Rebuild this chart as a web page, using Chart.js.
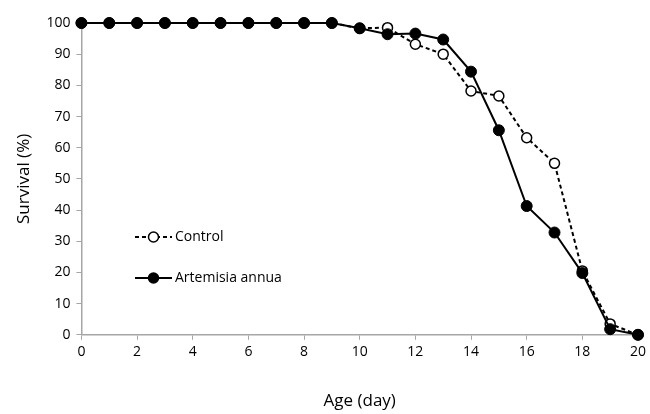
<!DOCTYPE html>
<html>
<head>
<meta charset="utf-8">
<script src="https://cdn.jsdelivr.net/npm/chart.js@4"></script>
<style>
  html, body { margin: 0; padding: 0; background: #fff; }
  #wrap { width: 650px; height: 414px; }
</style>
</head>
<body>
<div id="wrap"><canvas id="survivalChart"></canvas></div>
<script>
const days = [0, 1, 2, 3, 4, 5, 6, 7, 8, 9, 10, 11, 12, 13, 14, 15, 16, 17, 18, 19, 20];
const control = [100, 100, 100, 100, 100, 100, 100, 100, 100, 100, 98.3, 98.5, 93.2, 90, 78.2, 76.6, 63.2, 55, 20.5, 3.5, 0];
const artemisia = [100, 100, 100, 100, 100, 100, 100, 100, 100, 100, 98.3, 96.4, 96.6, 94.7, 84.4, 65.6, 41.3, 32.8, 19.8, 1.8, 0];

const FONT = "'Open Sans', 'Noto Sans', sans-serif";
const AXIS_GREY = "#a6a6a6";

// legend drawn inside the plot area, like the original
const insideLegend = {
    id: "insideLegend",
    afterDraw(chart) {
        const ctx = chart.ctx;
        const rows = [
            { ds: chart.data.datasets[0], y: 237 },
            { ds: chart.data.datasets[1], y: 278 }
        ];
        ctx.save();
        rows.forEach(r => {
            const x0 = 135, x1 = 172;
            ctx.strokeStyle = "#000";
            ctx.lineWidth = r.ds.borderWidth;
            ctx.setLineDash(r.ds.borderDash || []);
            ctx.beginPath();
            ctx.moveTo(x0, r.y);
            ctx.lineTo(x1, r.y);
            ctx.stroke();
            ctx.setLineDash([]);
            ctx.beginPath();
            ctx.arc((x0 + x1) / 2, r.y, 5, 0, Math.PI * 2);
            ctx.fillStyle = r.ds.pointBackgroundColor;
            ctx.fill();
            ctx.lineWidth = 1.5;
            ctx.stroke();
            ctx.fillStyle = "#000";
            ctx.font = "14px " + FONT;
            ctx.textBaseline = "middle";
            ctx.fillText(r.ds.label, x1 + 3, r.y);
        });
        ctx.restore();
    }
};

new Chart(document.getElementById("survivalChart"), {
    type: "line",
    data: {
        datasets: [{
            label: "Control",
            data: days.map((d, i) => ({ x: d, y: control[i] })),
            order: 1,
            clip: false,
            borderColor: "#000",
            borderWidth: 2,
            borderDash: [4, 3],
            pointRadius: 5,
            pointBorderWidth: 1.5,
            pointBackgroundColor: "#fff",
            pointBorderColor: "#000"
        }, {
            label: "Artemisia annua",
            data: days.map((d, i) => ({ x: d, y: artemisia[i] })),
            order: 0,
            clip: false,
            borderColor: "#000",
            borderWidth: 2,
            pointRadius: 5.5,
            pointBorderWidth: 1,
            pointBackgroundColor: "#000",
            pointBorderColor: "#000"
        }]
    },
    options: {
        responsive: true,
        maintainAspectRatio: false,
        animation: false,
        layout: { padding: { top: 23, right: 11, left: 10, bottom: 1 } },
        plugins: {
            legend: { display: false },
            tooltip: { enabled: false }
        },
        scales: {
            x: {
                type: "linear",
                min: 0,
                max: 20,
                border: { color: AXIS_GREY, width: 1.5 },
                grid: { drawOnChartArea: false, color: AXIS_GREY, tickLength: 5 },
                ticks: { stepSize: 2, color: "#000", font: { family: FONT, size: 14 }, padding: 4 },
                title: { display: true, text: "Age (day)", color: "#000", font: { family: FONT, size: 17 }, padding: { top: 26, bottom: 2 } }
            },
            y: {
                min: 0,
                max: 100,
                border: { color: AXIS_GREY, width: 1.5 },
                grid: { drawOnChartArea: false, color: AXIS_GREY, tickLength: 5 },
                ticks: { stepSize: 10, color: "#000", font: { family: FONT, size: 14 }, padding: 6 },
                title: { display: true, text: "Survival (%)", color: "#000", font: { family: FONT, size: 17 }, padding: { bottom: 6 } }
            }
        }
    },
    plugins: [insideLegend]
});
</script>
</body>
</html>
